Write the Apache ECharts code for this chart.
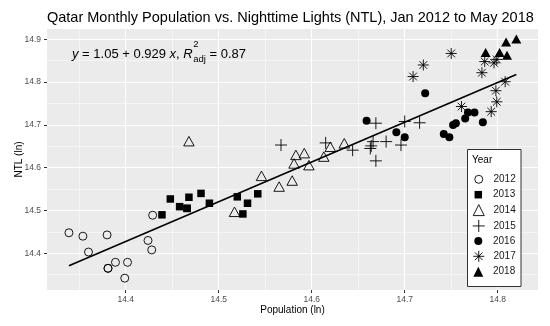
<!DOCTYPE html>
<html><head><meta charset="utf-8">
<script src="https://cdn.jsdelivr.net/npm/echarts@6/dist/echarts.min.js"></script>
<style>html,body{margin:0;padding:0;background:#fff}#c{width:550px;height:326px}</style>
</head><body><div id="c"></div>
<script>
// ---- data ----
const years = ['2012','2013','2014','2015','2016','2017','2018'];
const pop2012 = [14.339, 14.354, 14.360, 14.380, 14.389, 14.381, 14.381, 14.402, 14.399, 14.424, 14.428, 14.429];
const ntl2012 = [14.448, 14.440, 14.403, 14.443, 14.379, 14.365, 14.365, 14.379, 14.342, 14.430, 14.408, 14.489];
const pop2013 = [14.439, 14.448, 14.458, 14.466, 14.466, 14.468, 14.481, 14.490, 14.520, 14.531, 14.526, 14.542];
const ntl2013 = [14.490, 14.527, 14.509, 14.505, 14.505, 14.531, 14.540, 14.517, 14.532, 14.517, 14.492, 14.539];
const pop2014 = [14.468, 14.517, 14.546, 14.565, 14.579, 14.583, 14.581, 14.592, 14.597, 14.613, 14.620, 14.635];
const ntl2014 = [14.662, 14.497, 14.581, 14.556, 14.570, 14.630, 14.610, 14.634, 14.606, 14.626, 14.649, 14.657];
const pop2015 = [14.567, 14.615, 14.644, 14.669, 14.666, 14.663, 14.664, 14.680, 14.669, 14.696, 14.700, 14.716];
const ntl2015 = [14.653, 14.658, 14.641, 14.704, 14.661, 14.645, 14.651, 14.661, 14.616, 14.653, 14.708, 14.705];
const pop2016 = [14.659, 14.691, 14.700, 14.722, 14.742, 14.748, 14.752, 14.755, 14.765, 14.768, 14.775, 14.784];
const ntl2016 = [14.710, 14.683, 14.671, 14.774, 14.679, 14.671, 14.700, 14.704, 14.715, 14.729, 14.729, 14.706];
const pop2017 = [14.709, 14.720, 14.750, 14.761, 14.783, 14.786, 14.796, 14.799, 14.808, 14.798, 14.799, 14.793];
const ntl2017 = [14.813, 14.840, 14.867, 14.743, 14.822, 14.848, 14.845, 14.853, 14.801, 14.780, 14.754, 14.731];
const pop2018 = [14.787, 14.802, 14.809, 14.810, 14.820];
const ntl2018 = [14.869, 14.869, 14.894, 14.863, 14.901];
const fitIntercept = 1.05;
const fitSlope = 0.929;
const xTicks = [14.4, 14.5, 14.6, 14.7, 14.8];
const xMinorTicks = [14.35, 14.45, 14.55, 14.65, 14.75];
const yTicks = [14.4, 14.5, 14.6, 14.7, 14.8, 14.9];
const yMinorTicks = [14.35, 14.45, 14.55, 14.65, 14.75, 14.85];
const titleText = 'Qatar Monthly Population vs. Nighttime Lights (NTL), Jan 2012 to May 2018';
const xTitle = 'Population (ln)';
const yTitle = 'NTL (ln)';
const legendTitle = 'Year';

// ---- styling ----
const FONT = '"Liberation Sans", Arial, sans-serif';
const pops = [pop2012, pop2013, pop2014, pop2015, pop2016, pop2017, pop2018];
const ntls = [ntl2012, ntl2013, ntl2014, ntl2015, ntl2016, ntl2017, ntl2018];
const PLUS = 'path://M0,5L10,5M5,0L5,10';
const STAR = 'path://M0,5L10,5M5,0L5,10M1.5,1.5L8.5,8.5M1.5,8.5L8.5,1.5';
const OPEN = 'rgba(0,0,0,0)';
const marks = [
  {symbol:'circle', size:8, fill:OPEN, bw:0.9, leg:8},
  {symbol:'rect', size:7.5, fill:'#000', bw:0, leg:7.5},
  {symbol:'triangle', size:[10.5,9.5], fill:OPEN, bw:0.9, leg:11},
  {symbol:PLUS, size:12, fill:OPEN, bw:0.9, leg:12},
  {symbol:'circle', size:8, fill:'#000', bw:0, leg:8},
  {symbol:STAR, size:11, fill:OPEN, bw:0.9, leg:11},
  {symbol:'triangle', size:[10,9], fill:'#000', bw:0, leg:10}
];

const X_MIN = 14.3154, X_MAX = 14.8433, Y_MIN = 14.3143, Y_MAX = 14.9241;

const series = years.map((yr, i) => ({
  name: yr, type: 'scatter',
  data: pops[i].map((p, k) => [p, ntls[i][k]]),
  symbol: marks[i].symbol, symbolSize: marks[i].size,
  itemStyle: {color: marks[i].fill, borderColor: '#000', borderWidth: marks[i].bw, opacity: 1},
  emphasis: {disabled: true}, z: 2
}));
const allPop = [].concat(...pops);
const x0 = Math.min(...allPop), x1 = Math.max(...allPop);
series.push({
  name: 'fit', type: 'line', symbol: 'none', silent: true, z: 3,
  data: [[x0, fitIntercept + fitSlope * x0], [x1, fitIntercept + fitSlope * x1]],
  lineStyle: {color: '#000', width: 1.6}
});

const legendCenters = [179.3, 194.7, 210.1, 225.5, 240.9, 256.3, 271.7];
const LEG_SYM_X = 478.3, LEG_TEXT_X = 493;
const legends = years.map((yr, i) => {
  const H = marks[i].leg;
  return {
    data: [yr], orient: 'vertical', left: LEG_SYM_X - H / 2, top: legendCenters[i] - 6,
    itemWidth: H, itemHeight: H, itemGap: 0, padding: 0,
    selectedMode: false, z: 10,
    itemStyle: {borderWidth: marks[i].bw},
    textStyle: {fontSize: 10, color: '#1a1a1a', lineHeight: 12, fontFamily: FONT,
      padding: [0, 0, 0, LEG_TEXT_X - (LEG_SYM_X + H / 2 + 5)]}
  };
});

// equation layout (measure text widths for piece placement)
const cv = document.createElement('canvas').getContext('2d');
function w(t, size, italic) { cv.font = (italic ? 'italic ' : '') + size + 'px ' + FONT; return cv.measureText(t).width; }
const EQ = 13, EQS = 9.5, eqX = 72, eqY = 54;
const pieces = [['y', true], [' = 1.05 + 0.929 ', false], ['x', true], [', ', false], ['R', true]];
const eqEls = [];
let cx = eqX;
pieces.forEach(([t, it]) => {
  eqEls.push({type:'text', z:10, style:{text:t, x:cx, y:eqY, fill:'#000', font:(it?'italic ':'')+EQ+'px '+FONT, verticalAlign:'middle', align:'left'}});
  cx += w(t, EQ, it);
});
cx += 0.5;
eqEls.push({type:'text', z:10, style:{text:'2', x:cx, y:eqY-10, fill:'#000', font:EQS+'px '+FONT, verticalAlign:'middle', align:'left'}});
eqEls.push({type:'text', z:10, style:{text:'adj', x:cx, y:eqY+5, fill:'#000', font:EQS+'px '+FONT, verticalAlign:'middle', align:'left'}});
cx += w('adj', EQS, false);
eqEls.push({type:'text', z:10, style:{text:' = 0.87', x:cx, y:eqY, fill:'#000', font:EQ+'px '+FONT, verticalAlign:'middle', align:'left'}});

const majorSplit = {show:true, lineStyle:{color:'#FFFFFF', width:1.1}};
const minorSplit = {show:true, lineStyle:{color:'#FFFFFF', width:0.5}};
const tickStyle = {color:'#333333', width:1};

const option = {
  animation: false,
  backgroundColor: '#FFFFFF',
  title: {text: titleText, left: 47, top: 9.5, padding: 0,
    textStyle: {fontSize: 14.5, fontWeight: 'normal', color: '#000', fontFamily: FONT, lineHeight: 16}},
  grid: {left: 47, right: 12, top: 29, bottom: 36, show: true, backgroundColor: '#EBEBEB', borderWidth: 0, containLabel: false},
  xAxis: [
    {type:'value', min:X_MIN, max:X_MAX, position:'bottom',
     axisLine:{show:false, onZero:false},
     axisTick:{show:true, length:3, lineStyle:tickStyle, customValues:xTicks},
     axisLabel:{customValues:xTicks, color:'#4D4D4D', fontSize:8.5, margin:5, fontFamily:FONT, formatter:v=>v.toFixed(1)},
     splitLine: majorSplit,
     name: xTitle, nameLocation:'middle', nameGap:15, nameMoveOverlap:false, nameTextStyle:{color:'#000', fontSize:10, fontFamily:FONT}},
    {type:'value', min:X_MIN, max:X_MAX, position:'bottom',
     axisLine:{show:false, onZero:false}, axisTick:{show:false, customValues:xMinorTicks},
     axisLabel:{show:false, customValues:xMinorTicks}, splitLine: minorSplit}
  ],
  yAxis: [
    {type:'value', min:Y_MIN, max:Y_MAX, position:'left',
     axisLine:{show:false, onZero:false},
     axisTick:{show:true, length:3, lineStyle:tickStyle, customValues:yTicks},
     axisLabel:{customValues:yTicks, color:'#4D4D4D', fontSize:8.5, margin:6, fontFamily:FONT, formatter:v=>v.toFixed(1)},
     splitLine: majorSplit,
     name: yTitle, nameLocation:'middle', nameGap:23, nameRotate:90, nameMoveOverlap:false, nameTextStyle:{color:'#000', fontSize:10, fontFamily:FONT}},
    {type:'value', min:Y_MIN, max:Y_MAX, position:'left',
     axisLine:{show:false, onZero:false}, axisTick:{show:false, customValues:yMinorTicks},
     axisLabel:{show:false, customValues:yMinorTicks}, splitLine: minorSplit}
  ],
  legend: legends,
  graphic: [
    {type:'rect', z:5, shape:{x:467.5, y:149.5, width:53.5, height:137}, style:{fill:'#FFFFFF', stroke:'#333333', lineWidth:1}},
    {type:'text', z:11, style:{text:legendTitle, x:472, y:160, fill:'#000', font:'10px '+FONT, verticalAlign:'middle', align:'left'}}
  ].concat(eqEls),
  series: series
};
const chart = echarts.init(document.getElementById('c'), null, {renderer:'canvas'});
chart.setOption(option);
</script>
</body></html>
